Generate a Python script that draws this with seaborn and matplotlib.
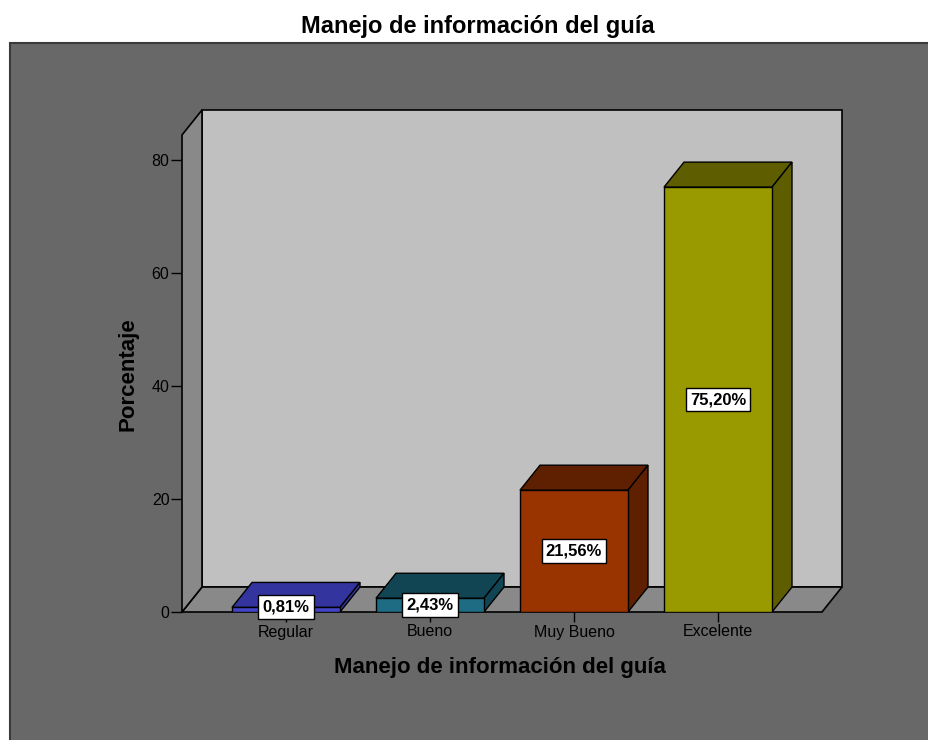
import pandas as pd
import seaborn as sns
import matplotlib.pyplot as plt
from matplotlib.patches import Polygon, Rectangle

# ==================== DATOS ====================
categorias = ['Regular', 'Bueno', 'Muy Bueno', 'Excelente']
porcentajes = [0.81, 2.43, 21.56, 75.20]
etiquetas = ['0,81%', '2,43%', '21,56%', '75,20%']
colores_frente = ['#4444c6', '#1e6b84', '#993300', '#999900']
colores_lado = ['#34349e', '#124553', '#5e2000', '#5e5e00']

titulo = 'Manejo de información del guía'
eje_x = 'Manejo de información del guía'
eje_y = 'Porcentaje'

# ==================== ESTILO ====================
sns.set_style('white')
plt.rcParams['font.family'] = ['Liberation Sans', 'DejaVu Sans']

W, H = 929, 740
fig = plt.figure(figsize=(W / 100, H / 100), dpi=100)
fig.patch.set_facecolor('white')

# panel gris oscuro de fondo (estilo SPSS)
fig.add_artist(Rectangle((10 / W, -0.05), 1.1, (H - 43) / H + 0.05,
                         transform=fig.transFigure, facecolor='#686868',
                         edgecolor='#3a3a3a', linewidth=1.5, zorder=-1))

ax = fig.add_axes([182 / W, 128 / H, 660 / W, 502 / H])
ax.patch.set_alpha(0)

df = pd.DataFrame({'categoria': categorias, 'porcentaje': porcentajes})
sns.barplot(data=df, x='categoria', y='porcentaje', hue='categoria',
            palette=colores_frente, width=0.75, saturation=1,
            edgecolor='black', linewidth=1, legend=False, ax=ax, zorder=3)

# profundidad 3D (en unidades de datos)
px_x = 144.0          # px por categoria
px_y = 452 / 80       # px por unidad de porcentaje
dx, dy = 20 / px_x, 25 / px_y
x_izq, x_der = -104 / px_x, 3 + 104 / px_x
ymax = 502 / px_y

ax.set_xlim(x_izq, x_der + dx)
ax.set_ylim(0, ymax)

# pared del fondo, suelo y pared lateral
ax.add_patch(Rectangle((x_izq + dx, dy), x_der - x_izq, ymax - dy,
                       facecolor='#c0c0c0', edgecolor='black', lw=1.2,
                       zorder=0.5, clip_on=False))
ax.add_patch(Polygon([(x_izq, 0), (x_der, 0), (x_der + dx, dy), (x_izq + dx, dy)],
                     facecolor='#898989', edgecolor='black', lw=1.2,
                     zorder=0.6, clip_on=False))
ax.add_patch(Polygon([(x_izq, 0), (x_izq, ymax - dy), (x_izq + dx, ymax), (x_izq + dx, dy)],
                     facecolor='#898989', edgecolor='black', lw=1.2,
                     zorder=0.6, clip_on=False))

# caras superior y lateral de cada barra + etiquetas
for barra, lado, val, lab in zip(ax.patches[:len(categorias)], colores_lado, porcentajes, etiquetas):
    x0, w, h = barra.get_x(), barra.get_width(), barra.get_height()
    ax.add_patch(Polygon([(x0, h), (x0 + w, h), (x0 + w + dx, h + dy), (x0 + dx, h + dy)],
                         facecolor=lado, edgecolor='black', lw=1, zorder=2.5))
    ax.add_patch(Polygon([(x0 + w, 0), (x0 + w + dx, dy), (x0 + w + dx, h + dy), (x0 + w, h)],
                         facecolor=lado, edgecolor='black', lw=1, zorder=2.5))
    ax.text(x0 + w / 2, max(val / 2, 0.9), lab, ha='center', va='center',
            fontsize=12, fontweight='bold', color='black', zorder=6,
            bbox=dict(boxstyle='square,pad=0.25', fc='white', ec='black', lw=1))

for s in ax.spines.values():
    s.set_visible(False)

ax.set_yticks([0, 20, 40, 60, 80])
ax.tick_params(axis='y', left=True, length=8, width=1, color='black',
               labelsize=11.5, pad=1, labelcolor='black')
ax.tick_params(axis='x', bottom=True, length=7, width=1, color='black',
               labelsize=11.5, pad=2, labelcolor='black')

ax.set_xlabel(eje_x, fontsize=16, fontweight='bold', color='black', va='center')
ax.xaxis.set_label_coords((500 - 182) / 660, -(668 - 612) / 502)
ax.set_ylabel(eje_y, fontsize=16, fontweight='bold', color='black', va='center')
ax.yaxis.set_label_coords((128 - 182) / 660, (612 - 374) / 502)

fig.text(478 / W, 1 - 27 / H, titulo, ha='center', va='center',
         fontsize=17, fontweight='bold', color='black')

plt.savefig('out.png', dpi=100)
plt.close(fig)
